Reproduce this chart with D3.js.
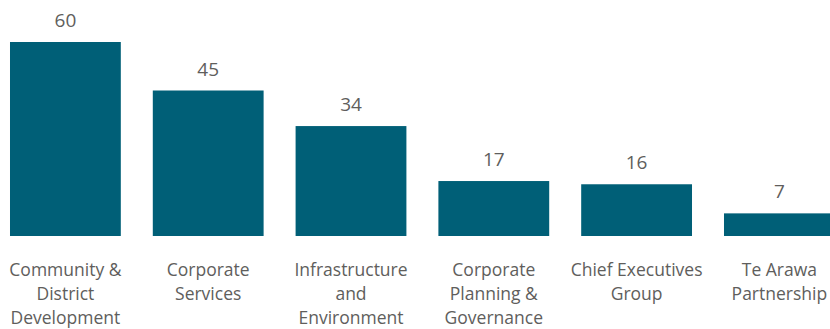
<!DOCTYPE html>
<html>
<head>
<meta charset="utf-8">
<script src="https://cdn.jsdelivr.net/npm/d3@7"></script>
<style>
  html, body { margin: 0; padding: 0; background: #ffffff; overflow: hidden; }
  svg { display: block; }
  text { font-family: "Open Sans", "Noto Sans", sans-serif; fill: #605e5c; }
</style>
</head>
<body>
<svg id="chart" width="830" height="329"></svg>
<script>
// Headcount by group
const categories = [
  ["Community &", "District", "Development"],
  ["Corporate", "Services"],
  ["Infrastructure", "and", "Environment"],
  ["Corporate", "Planning &", "Governance"],
  ["Chief Executives", "Group"],
  ["Te Arawa", "Partnership"]
];
const values = [60, 45, 34, 17, 16, 7];

const keys = categories.map(c => c.join(" "));
const svg = d3.select("#chart");

const x = d3.scaleBand()
  .domain(keys)
  .range([0, 844.8])
  .paddingInner(0.224)
  .paddingOuter(0.07);

const y = d3.scaleLinear()
  .domain([0, 60])
  .range([236, 42]);

const barColor = "#005f77";

svg.append("g").selectAll("rect")
  .data(values)
  .join("rect")
  .attr("x", (d, i) => x(keys[i]))
  .attr("y", d => y(d))
  .attr("width", x.bandwidth())
  .attr("height", d => y(0) - y(d))
  .attr("fill", barColor);

// value labels above bars
svg.append("g").selectAll("text")
  .data(values)
  .join("text")
  .attr("x", (d, i) => x(keys[i]) + x.bandwidth() / 2)
  .attr("y", d => y(d) - 15)
  .attr("text-anchor", "middle")
  .style("font-size", "19px")
  .text(d => d);

// category labels, wrapped over several lines
const lab = svg.append("g").selectAll("text")
  .data(categories)
  .join("text")
  .attr("x", (d, i) => x(keys[i]) + x.bandwidth() / 2)
  .attr("y", 276)
  .attr("text-anchor", "middle")
  .style("font-size", "17.5px");

lab.each(function(lines) {
  const t = d3.select(this);
  const cx = t.attr("x");
  lines.forEach((line, j) => {
    t.append("tspan")
      .attr("x", cx)
      .attr("dy", j === 0 ? 0 : 24)
      .text(line);
  });
});
</script>
</body>
</html>
